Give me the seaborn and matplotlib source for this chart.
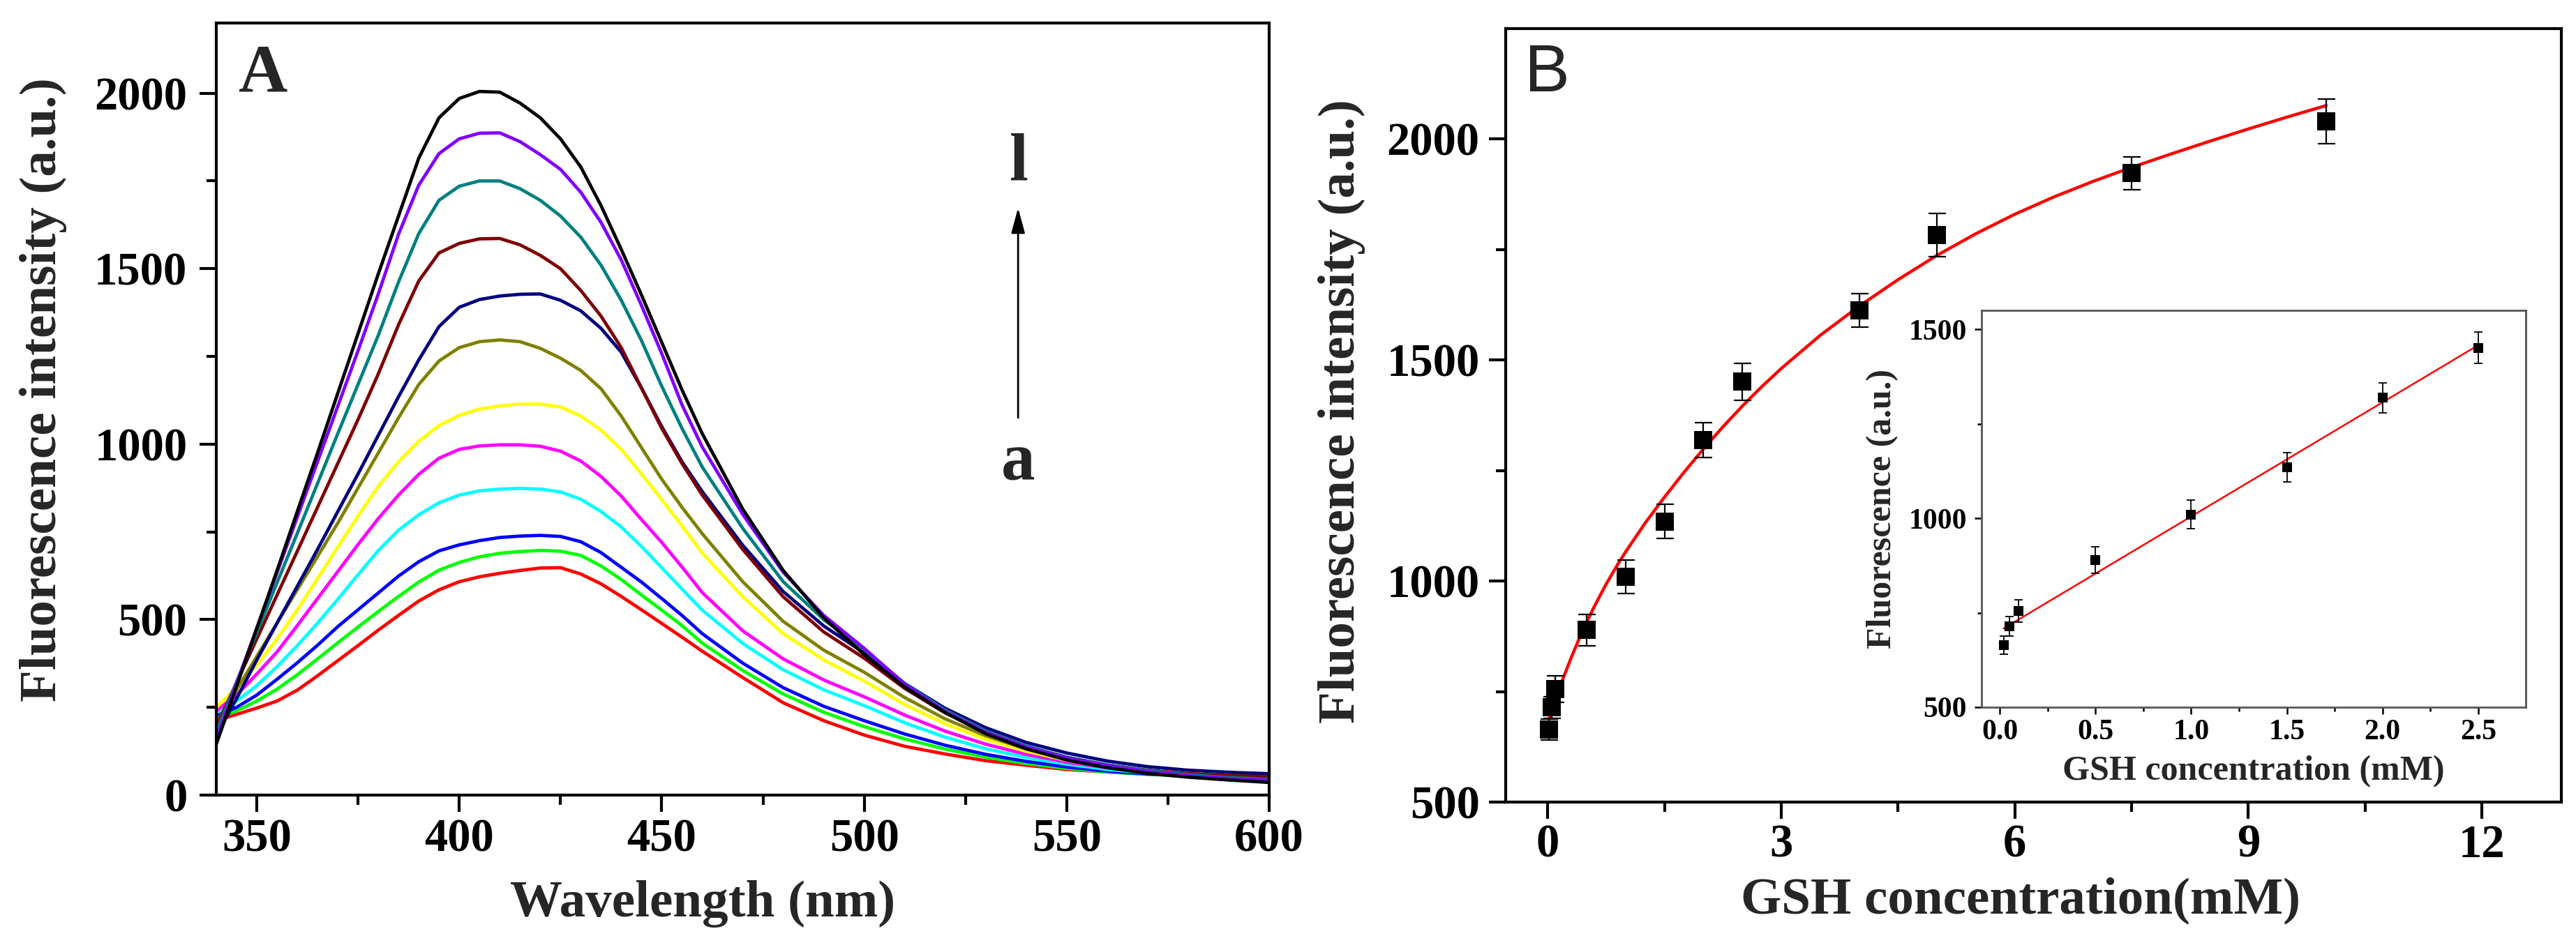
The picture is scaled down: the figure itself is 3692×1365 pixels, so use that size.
import numpy as np
import pandas as pd
import matplotlib
matplotlib.use("Agg")
import matplotlib.pyplot as plt
import seaborn as sns

# ---------------- data: panel A (emission spectra a..l) ----------------
wavelength = [340, 345, 350, 355, 360, 365, 370, 375, 380, 385, 390, 395, 400, 405, 410,
              415, 420, 425, 430, 435, 440, 445, 450, 455, 460, 470, 480, 490, 500, 510,
              520, 530, 540, 550, 560, 570, 580, 590, 600]

spec_a = [212, 230, 248, 268, 299, 340, 383, 426, 470, 512, 553, 585, 608, 622, 632,
          640, 647, 648, 630, 602, 566, 528, 489, 450, 410, 335, 263, 212, 171, 139,
          117, 98, 85, 73, 66, 60, 56, 52, 48]
spec_b = [220, 240, 268, 302, 343, 388, 434, 479, 523, 566, 607, 641, 663, 679, 689,
          694, 697, 695, 683, 653, 614, 570, 527, 483, 433, 355, 288, 236, 195, 160,
          131, 108, 90, 76, 66, 59, 54, 51, 49]
spec_c = [226, 250, 285, 330, 377, 427, 480, 528, 576, 624, 665, 696, 713, 725, 734,
          738, 740, 737, 722, 691, 649, 607, 560, 512, 460, 376, 306, 253, 212, 174,
          142, 116, 96, 80, 68, 60, 55, 52, 50]
spec_d = [236, 268, 312, 366, 426, 490, 558, 628, 697, 755, 799, 833, 855, 867, 872,
          874, 872, 864, 843, 808, 764, 708, 648, 587, 527, 432, 357, 300, 255, 206,
          165, 132, 107, 88, 73, 63, 57, 53, 51]
spec_e = [240, 285, 345, 408, 483, 560, 637, 714, 788, 855, 914, 960, 985, 995, 998,
          998, 994, 980, 952, 908, 852, 785, 720, 650, 577, 468, 388, 328, 280, 228,
          182, 145, 116, 94, 78, 66, 59, 55, 52]
spec_f = [250, 305, 370, 445, 528, 617, 707, 795, 880, 950, 1008, 1053, 1082, 1100, 1109,
          1114, 1114, 1106, 1080, 1040, 985, 915, 842, 767, 690, 565, 460, 385, 325, 258,
          203, 159, 125, 99, 81, 68, 60, 56, 54]
spec_g = [205, 300, 395, 490, 585, 680, 775, 875, 975, 1075, 1170, 1237, 1275, 1292, 1297,
          1292, 1273, 1245, 1210, 1158, 1080, 990, 900, 820, 745, 608, 495, 413, 350, 278,
          217, 169, 131, 103, 84, 70, 61, 56, 54]
spec_h = [170, 275, 385, 490, 595, 700, 808, 915, 1025, 1135, 1240, 1335, 1390, 1412, 1422,
          1427, 1428, 1410, 1380, 1330, 1262, 1160, 1050, 950, 865, 712, 580, 482, 405, 318,
          247, 192, 150, 120, 97, 81, 71, 65, 61]
spec_i = [195, 320, 445, 570, 695, 820, 945, 1070, 1200, 1340, 1465, 1545, 1572, 1585, 1586,
          1568, 1538, 1500, 1438, 1365, 1275, 1160, 1045, 945, 855, 700, 565, 465, 390, 304,
          234, 180, 138, 108, 86, 71, 61, 55, 52]
spec_j = [180, 322, 463, 605, 746, 888, 1030, 1170, 1310, 1462, 1600, 1695, 1735, 1750, 1750,
          1728, 1695, 1650, 1590, 1510, 1410, 1295, 1165, 1045, 935, 760, 608, 500, 415, 318,
          242, 183, 140, 108, 86, 70, 58, 50, 45]
spec_k = [160, 318, 476, 634, 792, 950, 1108, 1266, 1428, 1598, 1738, 1828, 1870, 1886, 1887,
          1862, 1825, 1783, 1718, 1632, 1525, 1395, 1258, 1112, 992, 800, 635, 512, 418, 316,
          238, 179, 137, 106, 84, 67, 55, 47, 42]
spec_l = [145, 310, 475, 640, 808, 975, 1145, 1315, 1485, 1650, 1815, 1930, 1985, 2005, 2003,
          1972, 1930, 1870, 1790, 1680, 1555, 1425, 1290, 1155, 1030, 815, 640, 505, 400, 308,
          235, 175, 132, 100, 78, 62, 51, 43, 36]

sample_ids = ["a", "b", "c", "d", "e", "f", "g", "h", "i", "j", "k", "l"]
sample_colors = ["#FF0000", "#00FF00", "#0000FF", "#00FFFF", "#FF00FF", "#FFFF00",
                 "#808000", "#000080", "#800000", "#008080", "#8000FF", "#000000"]

# ---------------- data: panel B ----------------
gsh_conc = [0.02, 0.05, 0.1, 0.5, 1.0, 1.5, 2.0, 2.5, 4.0, 5.0, 7.5, 10.0]
gsh_intensity = [664, 714, 755, 889, 1010, 1135, 1319, 1451, 1612, 1783, 1923, 2040]
gsh_error = [24, 25, 30, 35, 38, 39, 40, 42, 38, 49, 37, 50]

# red fitted curve of the main plot
fit_conc = [0.02, 0.05, 0.1, 0.15, 0.2, 0.3, 0.4, 0.5, 0.6, 0.75, 0.9, 1.0, 1.25, 1.5,
            1.75, 2.0, 2.25, 2.5, 2.75, 3.0, 3.5, 4.0, 4.5, 5.0, 5.5, 6.0, 6.5, 7.0,
            7.5, 8.0, 8.5, 9.0, 9.5, 10.0]
fit_intensity = [690, 706, 732, 757, 781, 826, 868, 907, 943, 993, 1038, 1066, 1131, 1190,
                 1246, 1299, 1349, 1396, 1440, 1481, 1556, 1622, 1682, 1737, 1786, 1830,
                 1869, 1904, 1936, 1966, 1995, 2023, 2050, 2076]

n_inset = 8  # points 0.02 .. 2.5 mM shown in the inset (linear range)

# ---------------- style ----------------
sns.set_theme(style="ticks")
plt.rcParams['font.family'] = ['Liberation Serif', 'DejaVu Serif']
plt.rcParams['font.weight'] = 'bold'
plt.rcParams['axes.labelweight'] = 'bold'
plt.rcParams['axes.edgecolor'] = 'black'
plt.rcParams['axes.linewidth'] = 3
plt.rcParams['xtick.color'] = 'black'
plt.rcParams['ytick.color'] = 'black'
plt.rcParams['lines.solid_joinstyle'] = 'round'

W, H = 3692, 1365
fig = plt.figure(figsize=(W / 100, H / 100), dpi=100)
fig.patch.set_facecolor('white')


def frac(l, t, r, b):
    return [l / W, 1 - b / H, (r - l) / W, (b - t) / H]


axA = fig.add_axes(frac(310, 33, 1819, 1140))
axB = fig.add_axes(frac(2158, 41, 3671, 1150))
axI = fig.add_axes(frac(2840, 445, 3620, 1014))

# ---------------- panel A ----------------
rows = []
for sid, vals in zip(sample_ids, [spec_a, spec_b, spec_c, spec_d, spec_e, spec_f,
                                  spec_g, spec_h, spec_i, spec_j, spec_k, spec_l]):
    for w, v in zip(wavelength, vals):
        rows.append((sid, w, v))
dfA = pd.DataFrame(rows, columns=["sample", "wavelength", "intensity"])
sns.lineplot(data=dfA, x="wavelength", y="intensity", hue="sample",
             hue_order=sample_ids, palette=dict(zip(sample_ids, sample_colors)),
             estimator=None, linewidth=3.4, legend=False, ax=axA)

axA.set_xlim(340, 600)
axA.set_ylim(0, 2200)
axA.set_xticks([350, 400, 450, 500, 550, 600])
axA.set_xticks([375, 425, 475, 525, 575], minor=True)
axA.set_yticks([0, 500, 1000, 1500, 2000])
axA.set_yticks([250, 750, 1250, 1750], minor=True)
axA.set_xlabel("Wavelength (nm)", fontsize=54, fontweight='bold')
axA.set_ylabel("Fluorescence intensity (a.u.)", fontsize=54, fontweight='bold')
axA.xaxis.set_label_coords(0.462, -0.110)
axA.yaxis.set_label_coords(-0.142, 0.525)
axA.tick_params(axis='both', which='major', direction='out', length=17, width=3,
                labelsize=48)
axA.tick_params(axis='x', which='major', pad=7)
axA.tick_params(axis='y', which='major', pad=13)
axA.tick_params(axis='both', which='minor', direction='out', length=10, width=3)
for lab in axA.get_xticklabels() + axA.get_yticklabels():
    lab.set_fontweight('bold')

axA.text(345.5, 2006, "A", fontsize=70, fontweight='bold', ha='left', va='baseline')
axA.text(538, 1752, "l", fontsize=70, fontweight='bold', ha='center', va='baseline')
axA.text(538, 899, "a", fontsize=70, fontweight='bold', ha='center', va='baseline')
axA.annotate("", xy=(538, 1673), xytext=(538, 1075),
             arrowprops=dict(arrowstyle="-|>,head_length=0.55,head_width=0.15",
                             mutation_scale=40, lw=2, color='black',
                             shrinkA=0, shrinkB=0))

# ---------------- panel B ----------------
sns.lineplot(x=fit_conc, y=fit_intensity, color='red', linewidth=3.2, ax=axB, zorder=2)
axB.errorbar(gsh_conc, gsh_intensity, yerr=gsh_error, fmt='none', ecolor='black',
             elinewidth=1.6, capsize=9, capthick=1.6, zorder=3)
sns.scatterplot(x=gsh_conc, y=gsh_intensity, marker='s', s=340, color='black',
                edgecolor='black', linewidth=0, ax=axB, zorder=4)

axB.set_xlim(-0.54, 13.02)
axB.set_ylim(500, 2250)
axB.set_xticks([0, 3, 6, 9, 12])
axB.set_xticks([1.5, 4.5, 7.5, 10.5], minor=True)
axB.set_yticks([500, 1000, 1500, 2000])
axB.set_yticks([750, 1250, 1750], minor=True)
axB.set_xlabel("GSH concentration(mM)", fontsize=54, fontweight='bold')
axB.set_ylabel("Fluorescence intensity (a.u.)", fontsize=54, fontweight='bold')
axB.xaxis.set_label_coords(0.488, -0.097)
axB.yaxis.set_label_coords(-0.133, 0.505)
axB.tick_params(axis='both', which='major', direction='out', length=17, width=3,
                labelsize=48)
axB.tick_params(axis='x', which='major', pad=6)
axB.tick_params(axis='y', which='major', pad=10)
axB.tick_params(axis='both', which='minor', direction='out', length=10, width=3)
for lab in axB.get_xticklabels() + axB.get_yticklabels():
    lab.set_fontweight('bold')
axB.text(-0.30, 2108, "B", fontsize=70, fontweight='normal', ha='left', va='baseline',
         family=['Liberation Sans', 'DejaVu Sans'])

# ---------------- inset ----------------
axI.set_facecolor('white')
sns.regplot(x=gsh_conc[:n_inset], y=gsh_intensity[:n_inset], scatter=False, ci=None,
            color='red', line_kws={'linewidth': 1.8}, ax=axI)
axI.errorbar(gsh_conc[:n_inset], gsh_intensity[:n_inset], yerr=gsh_error[:n_inset],
             fmt='none', ecolor='black', elinewidth=1.3, capsize=4, capthick=1.3, zorder=3)
sns.scatterplot(x=gsh_conc[:n_inset], y=gsh_intensity[:n_inset], marker='s', s=95,
                color='black', edgecolor='black', linewidth=0, ax=axI, zorder=4)
axI.set_xlim(-0.095, 2.748)
axI.set_ylim(500, 1550)
axI.set_xticks([0.0, 0.5, 1.0, 1.5, 2.0, 2.5])
axI.set_xticklabels(["0.0", "0.5", "1.0", "1.5", "2.0", "2.5"])
axI.set_xticks([0.25, 0.75, 1.25, 1.75, 2.25], minor=True)
axI.set_yticks([500, 1000, 1500])
axI.set_yticks([750, 1250], minor=True)
axI.set_xlabel("GSH concentration (mM)", fontsize=36, fontweight='bold')
axI.set_ylabel("Fluorescence (a.u.)", fontsize=36, fontweight='bold')
axI.xaxis.set_label_coords(0.5, -0.121)
axI.yaxis.set_label_coords(-0.152, 0.5)
axI.tick_params(axis='both', which='major', direction='out', length=7, width=1.8,
                labelsize=30, pad=5)
axI.tick_params(axis='y', which='major', pad=8)
axI.tick_params(axis='both', which='minor', direction='out', length=4.5, width=1.8)
for lab in axI.get_xticklabels() + axI.get_yticklabels():
    lab.set_fontweight('bold')
for sp in axI.spines.values():
    sp.set_linewidth(2)
    sp.set_color('#555555')

fig.savefig("out.png", dpi=100, facecolor='white')
